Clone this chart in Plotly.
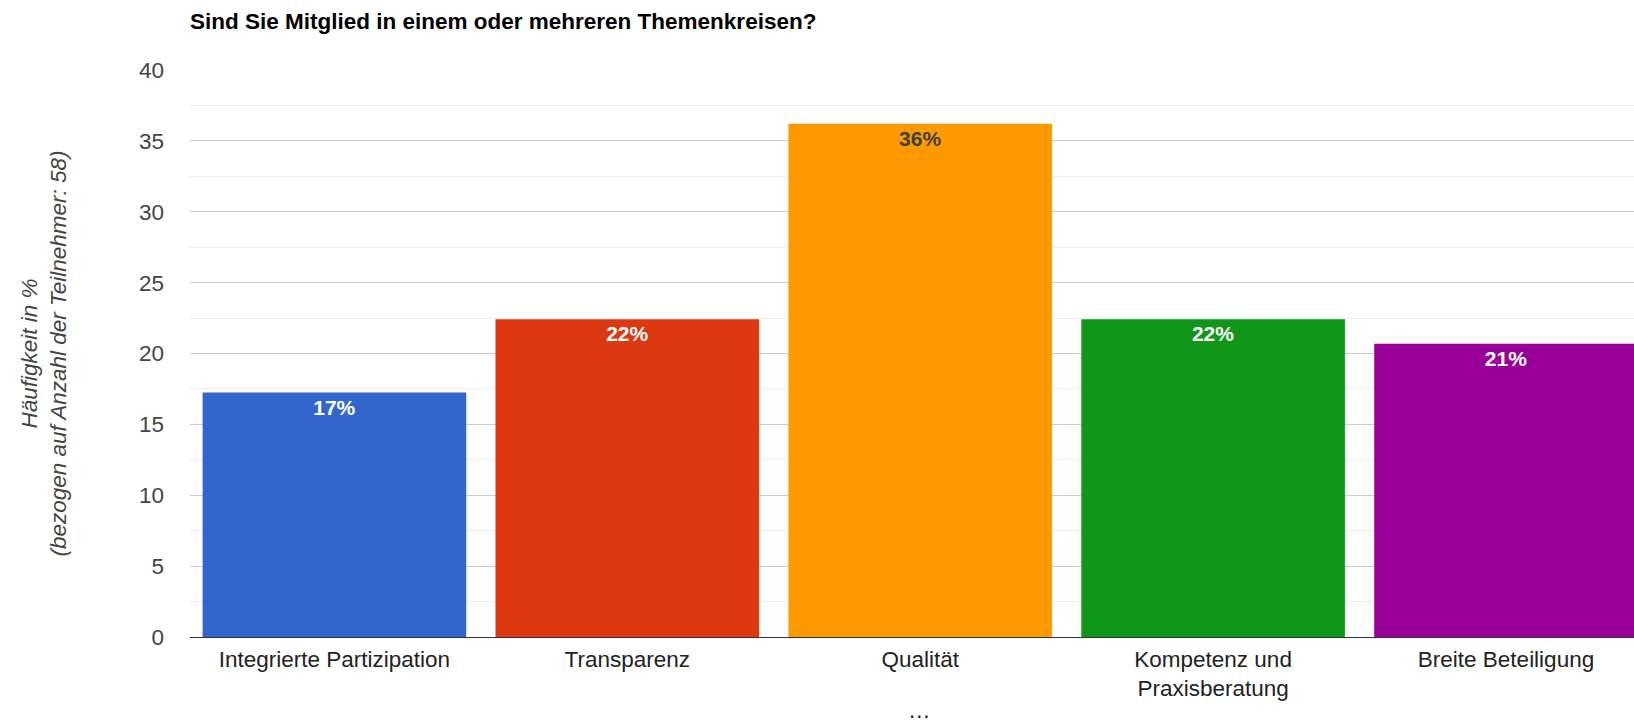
import plotly.graph_objects as go

categories = ["Integrierte Partizipation", "Transparenz", "Qualität",
              "Kompetenz und<br>Praxisberatung", "Breite Beteiligung"]
values = [17.24, 22.41, 36.21, 22.41, 20.69]
labels = ["17%", "22%", "36%", "22%", "21%"]
colors = ["#3366CC", "#DC3912", "#FF9900", "#109618", "#990099"]
label_colors = ["#FFFFFF", "#FFFFFF", "#404040", "#FFFFFF", "#FFFFFF"]
y_ticks = [0, 5, 10, 15, 20, 25, 30, 35, 40]

FONT = "Liberation Sans, Arial, sans-serif"
FS = 22.5

L, R, T, B = 190, 0, 70, 88
W, H = 1634, 725

fig = go.Figure()
fig.add_trace(go.Bar(
    x=list(range(len(categories))),
    y=values,
    marker=dict(color=colors, line=dict(width=0)),
    text=labels,
    textposition="inside",
    insidetextanchor="end",
    textangle=0,
    textfont=dict(family=FONT, size=21, color=label_colors, weight="bold"),
    hoverinfo="skip",
))

fig.update_layout(
    width=W, height=H,
    margin=dict(l=L, r=R, t=T, b=B, autoexpand=False),
    paper_bgcolor="white", plot_bgcolor="white",
    showlegend=False,
    bargap=0.1,
    font=dict(family=FONT, size=FS, color="#222222"),
    title=dict(
        text="<b>Sind Sie Mitglied in einem oder mehreren Themenkreisen?</b>",
        x=L / W, xref="container", xanchor="left",
        y=1 - 21 / H, yref="container", yanchor="middle",
        font=dict(family=FONT, size=FS, color="#000000"),
    ),
    xaxis=dict(
        tickmode="array",
        tickvals=list(range(len(categories))),
        ticktext=categories,
        range=[-0.493, 4.437],
        showgrid=False, zeroline=False,
        showline=True, linecolor="#333333", linewidth=1,
        ticks="", ticklabelstandoff=2,
        tickfont=dict(family=FONT, size=FS, color="#222222"),
        automargin=False,
        fixedrange=True,
    ),
    yaxis=dict(
        range=[0, 40],
        tickvals=y_ticks,
        showgrid=True, gridcolor="#cccccc", gridwidth=1,
        zeroline=False, showline=False,
        ticks="", ticklabelstandoff=25,
        tickfont=dict(family=FONT, size=FS, color="#444444"),
        minor=dict(dtick=2.5, showgrid=True, gridcolor="#ebebeb", gridwidth=1),
        automargin=False,
        fixedrange=True,
    ),
)

# y-axis title (two lines, italic)
fig.add_annotation(
    text="<i>Häufigkeit in %<br>(bezogen auf Anzahl der Teilnehmer: 58)</i>",
    xref="paper", yref="paper", x=0, y=0.5,
    xanchor="center", yanchor="middle", xshift=43 - L,
    textangle=-90, showarrow=False,
    font=dict(family=FONT, size=FS, color="#444444"),
)

# pagination ellipsis below the axis
fig.add_annotation(
    text="…", xref="paper", yref="paper",
    x=(920 - L) / (W - L - R), y=-(710 - (H - B)) / (H - T - B),
    showarrow=False, font=dict(family=FONT, size=FS, color="#222222"),
    yanchor="middle",
)

fig.write_html(
    "out.html",
    config={"displayModeBar": False},
    post_script="document.body.style.margin='0';document.body.style.overflow='hidden';",
)
